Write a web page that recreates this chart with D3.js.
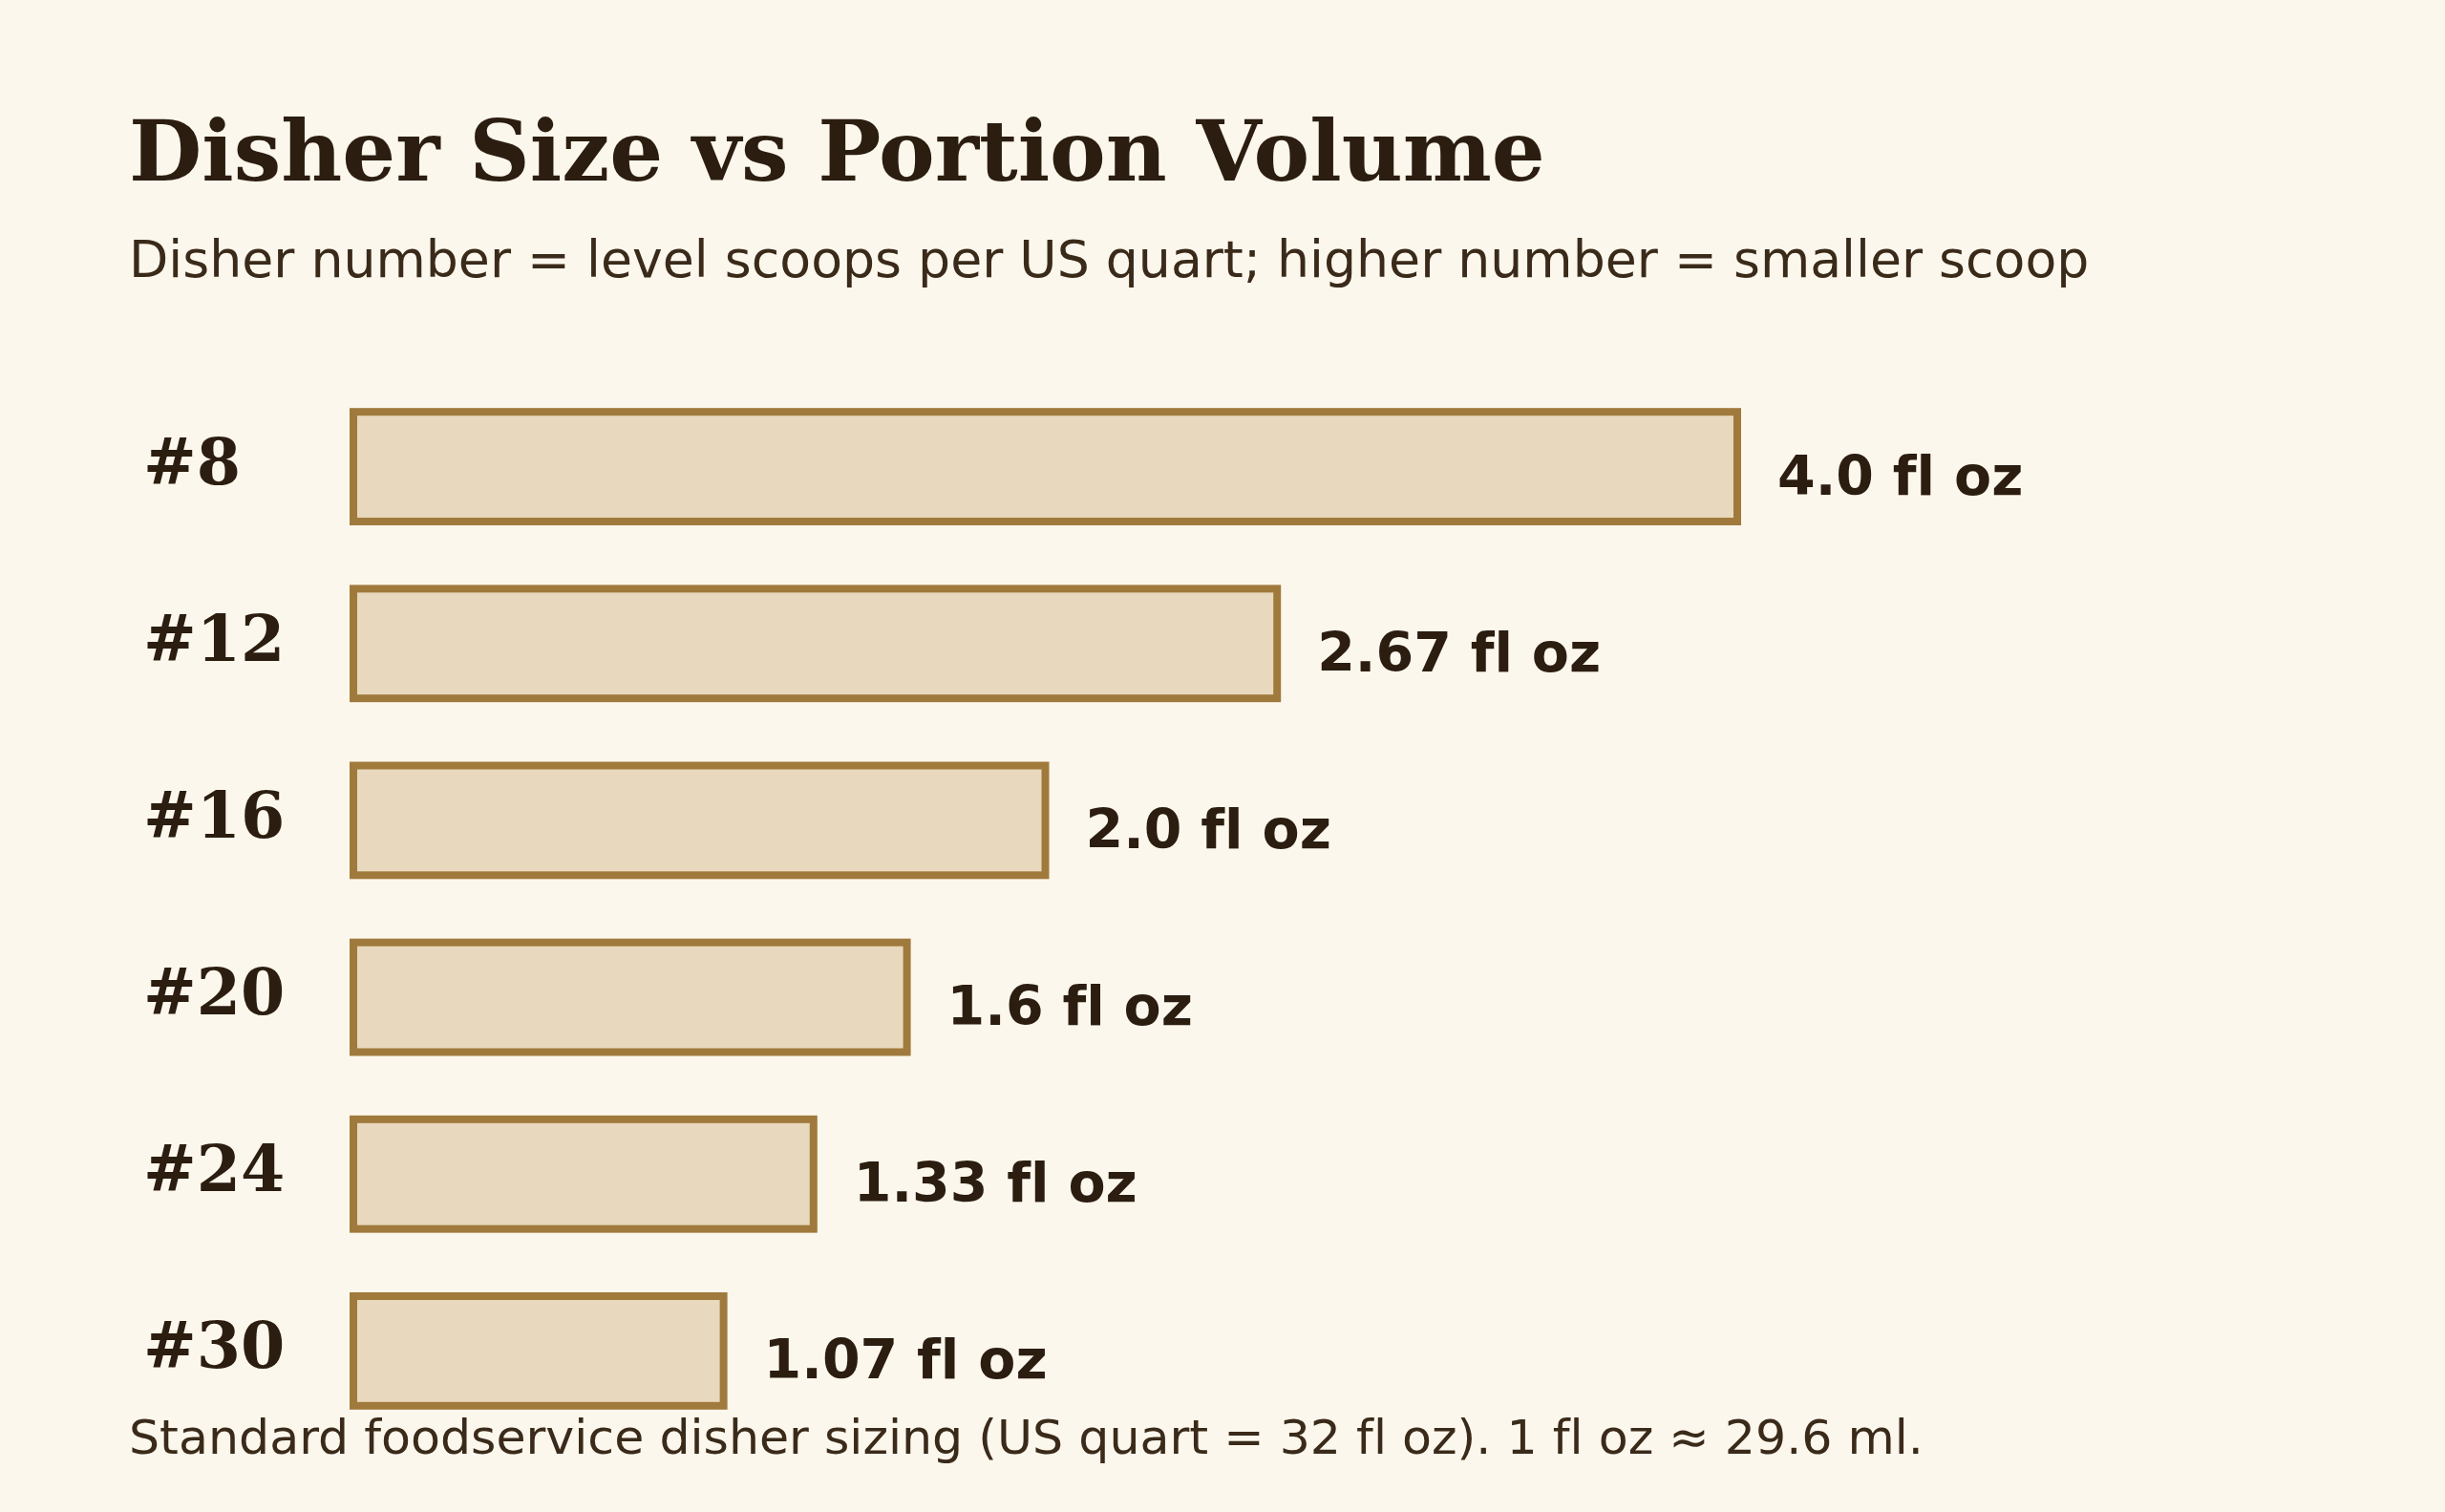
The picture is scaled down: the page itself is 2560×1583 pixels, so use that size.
<!DOCTYPE html>
<html>
<head>
<meta charset="utf-8">
<script src="https://cdn.jsdelivr.net/npm/d3@7"></script>
<style>
  html, body { margin: 0; padding: 0; background: #fcf7ec; }
  svg { display: block; }
  text { font-variant-ligatures: none; }
</style>
</head>
<body>
<div id="chart"></div>
<script>
// Disher sizes and their portion volumes (fl oz)
const dishers = ["#8", "#12", "#16", "#20", "#24", "#30"];
const volumes = [4.0, 2.67, 2.0, 1.6, 1.33, 1.07];
const valueLabels = ["4.0 fl oz", "2.67 fl oz", "2.0 fl oz", "1.6 fl oz", "1.33 fl oz", "1.07 fl oz"];

const width = 2560, height = 1583;
const ink = "#2b1d10";

const svg = d3.select("#chart")
    .append("svg")
    .attr("width", width)
    .attr("height", height);

svg.append("rect")
    .attr("width", width)
    .attr("height", height)
    .attr("fill", "#fcf7ec");

// Titre et sous-titre
svg.append("text")
    .attr("x", 135)
    .attr("y", 189)
    .attr("font-family", "DejaVu Serif")
    .attr("font-weight", "bold")
    .attr("font-size", 88)
    .attr("fill", ink)
    .text("Disher Size vs Portion Volume");

svg.append("text")
    .attr("x", 135)
    .attr("y", 290)
    .attr("font-family", "DejaVu Sans")
    .attr("font-size", 53.7)
    .attr("fill", "#3a2a1a")
    .text("Disher number = level scoops per US quart; higher number = smaller scoop");

const data = dishers.map((d, i) => ({ disher: d, volume: volumes[i], label: valueLabels[i] }));

const xScale = d3.scaleLinear()
    .domain([0, 4])
    .range([370, 1819]);

const yScale = d3.scaleBand()
    .domain(dishers)
    .range([396, 1507])
    .paddingInner(0.38)
    .paddingOuter(0.19);

svg.selectAll("rect.bar")
    .data(data)
    .enter()
    .append("rect")
    .attr("class", "bar")
    .attr("x", xScale(0))
    .attr("y", d => yScale(d.disher))
    .attr("width", d => xScale(d.volume) - xScale(0))
    .attr("height", yScale.bandwidth())
    .attr("fill", "#e8d8bd")
    .attr("stroke", "#a07a3c")
    .attr("stroke-width", 8);

svg.selectAll("text.disher")
    .data(data)
    .enter()
    .append("text")
    .attr("class", "disher")
    .attr("x", 150)
    .attr("y", d => yScale(d.disher) + yScale.bandwidth() / 2 + 18)
    .attr("font-family", "DejaVu Serif")
    .attr("font-weight", "bold")
    .attr("font-size", 66.5)
    .attr("fill", ink)
    .text(d => d.disher);

svg.selectAll("text.value")
    .data(data)
    .enter()
    .append("text")
    .attr("class", "value")
    .attr("x", d => xScale(d.volume) + 42)
    .attr("y", d => yScale(d.disher) + yScale.bandwidth() / 2 + 29)
    .attr("font-family", "DejaVu Sans")
    .attr("font-weight", "bold")
    .attr("font-size", 57)
    .attr("fill", ink)
    .text(d => d.label);

svg.append("text")
    .attr("x", 135)
    .attr("y", 1522)
    .attr("font-family", "DejaVu Sans")
    .attr("font-size", 50.6)
    .attr("fill", "#3a2a1a")
    .text("Standard foodservice disher sizing (US quart = 32 fl oz). 1 fl oz \u2248 29.6 ml.");
</script>
</body>
</html>
